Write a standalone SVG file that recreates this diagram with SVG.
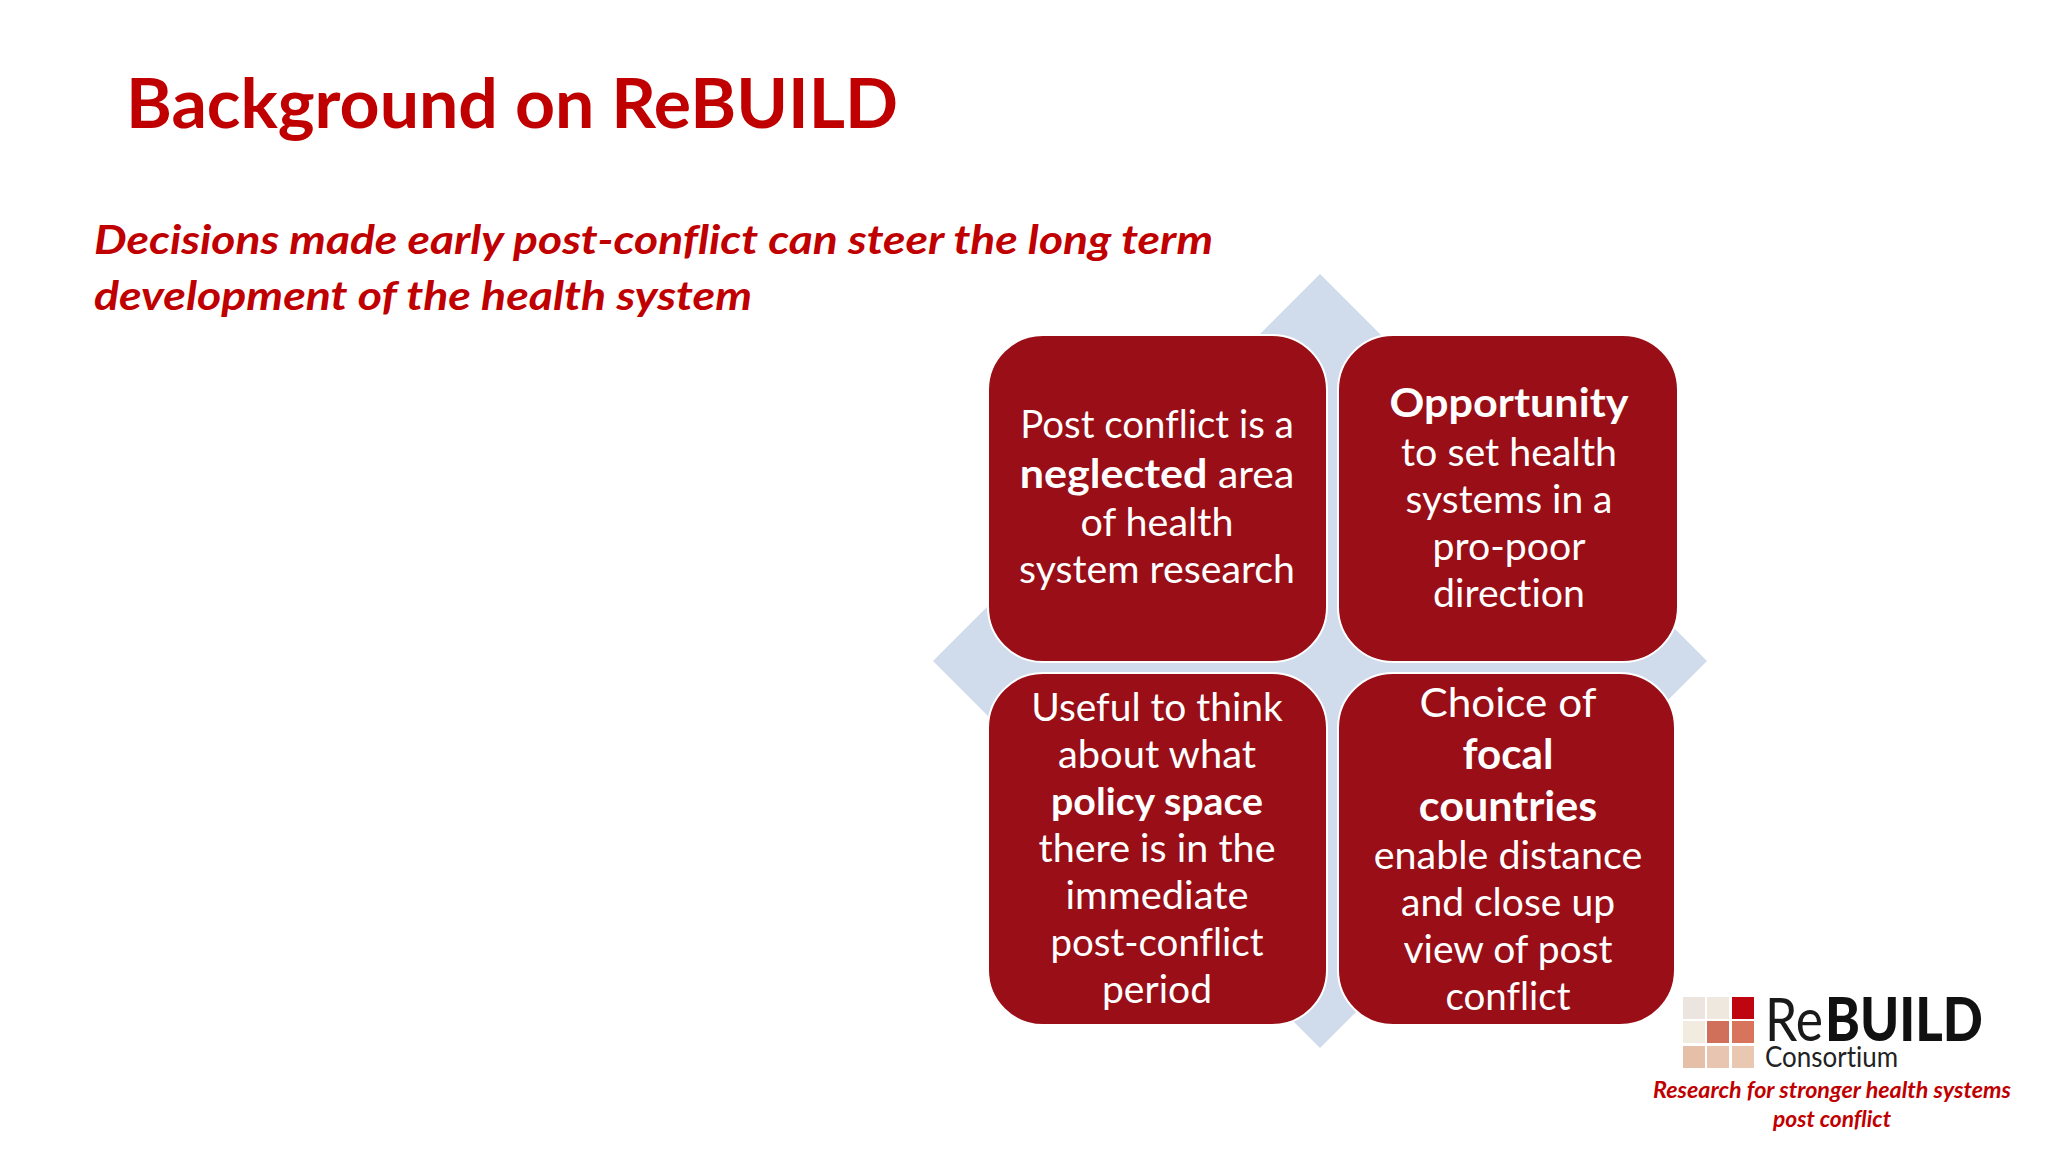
<svg xmlns="http://www.w3.org/2000/svg" width="2048" height="1152" viewBox="0 0 2048 1152">
<style>
text{font-family:Lato,"Open Sans",sans-serif;font-variant-ligatures:none}
.b{fill:#990e17;stroke:#fff;stroke-width:2}
.t{fill:#fff;font-size:38px;text-anchor:middle}
.h{font-size:40px}
.s{font-weight:700;font-size:40px}
.r{fill:#c00000;font-weight:700;font-style:italic}
</style>
<rect width="2048" height="1152" fill="#fff"/>
<text class="r" x="126" y="128" font-size="68" style="font-style:normal" textLength="772" lengthAdjust="spacingAndGlyphs">Background on ReBUILD</text>
<text class="r" x="94" y="254" font-size="40" textLength="1119" lengthAdjust="spacingAndGlyphs">Decisions made early post-conflict can steer the long term</text>
<text class="r" x="94" y="310" font-size="40" textLength="658" lengthAdjust="spacingAndGlyphs">development of the health system</text>
<polygon id="diamond" points="1320,274 1707,661 1320,1048 933,661" fill="#d0dcec"/>
<g id="n1"><rect class="b" x="988" y="335" width="339" height="327" rx="55"/>
<text class="t" x="1157" y="438" textLength="273.5" lengthAdjust="spacingAndGlyphs">Post conflict is a</text>
<text class="t" x="1157" y="488" textLength="274.5" lengthAdjust="spacingAndGlyphs"><tspan class="s">neglected</tspan> area</text>
<text class="t" x="1157" y="536" textLength="153" lengthAdjust="spacingAndGlyphs">of health</text>
<text class="t" x="1157" y="583" textLength="276" lengthAdjust="spacingAndGlyphs">system research</text></g>
<g id="n2"><rect class="b" x="1338" y="335" width="340" height="327" rx="55"/>
<text class="t s" x="1509" y="417" textLength="239" lengthAdjust="spacingAndGlyphs">Opportunity</text>
<text class="t" x="1509" y="466" textLength="216" lengthAdjust="spacingAndGlyphs">to set health</text>
<text class="t" x="1509" y="513" textLength="207" lengthAdjust="spacingAndGlyphs">systems in a</text>
<text class="t" x="1509" y="560" textLength="153" lengthAdjust="spacingAndGlyphs">pro-poor</text>
<text class="t" x="1509" y="607" textLength="152" lengthAdjust="spacingAndGlyphs">direction</text></g>
<g id="n3"><rect class="b" x="988" y="673" width="339" height="352" rx="55"/>
<text class="t" x="1157" y="721" textLength="251.5" lengthAdjust="spacingAndGlyphs">Useful to think</text>
<text class="t" x="1157" y="768" textLength="198" lengthAdjust="spacingAndGlyphs">about what</text>
<text class="t s" style="font-size:38px" x="1157" y="815" textLength="212" lengthAdjust="spacingAndGlyphs">policy space</text>
<text class="t" x="1157" y="862" textLength="237" lengthAdjust="spacingAndGlyphs">there is in the</text>
<text class="t" x="1157" y="909" textLength="183" lengthAdjust="spacingAndGlyphs">immediate</text>
<text class="t" x="1157" y="956" textLength="213" lengthAdjust="spacingAndGlyphs">post-conflict</text>
<text class="t" x="1157" y="1003" textLength="110" lengthAdjust="spacingAndGlyphs">period</text></g>
<g id="n4"><rect class="b" x="1338" y="673" width="337" height="352" rx="55"/>
<text class="t h" x="1508" y="717" textLength="177" lengthAdjust="spacingAndGlyphs">Choice of</text>
<text class="t s" style="font-size:42px" x="1508" y="769" textLength="91" lengthAdjust="spacingAndGlyphs">focal</text>
<text class="t s" style="font-size:42px" x="1508" y="821" textLength="178.5" lengthAdjust="spacingAndGlyphs">countries</text>
<text class="t" x="1508" y="869" textLength="268.5" lengthAdjust="spacingAndGlyphs">enable distance</text>
<text class="t" x="1508" y="916" textLength="214" lengthAdjust="spacingAndGlyphs">and close up</text>
<text class="t" x="1508" y="963" textLength="209" lengthAdjust="spacingAndGlyphs">view of post</text>
<text class="t" x="1508" y="1010" textLength="125" lengthAdjust="spacingAndGlyphs">conflict</text></g>
<g id="logo">
<rect x="1683" y="997" width="22" height="22" fill="#ece4df"/>
<rect x="1707" y="997" width="22" height="22" fill="#eee8df"/>
<rect x="1732" y="997" width="22" height="22" fill="#bf0510"/>
<rect x="1683" y="1021" width="22" height="22" fill="#f1ebe0"/>
<rect x="1707" y="1021" width="22" height="22" fill="#d0705a"/>
<rect x="1732" y="1021" width="22" height="22" fill="#d8745c"/>
<rect x="1683" y="1046" width="22" height="22" fill="#e6bfa8"/>
<rect x="1707" y="1046" width="22" height="22" fill="#e8c5b0"/>
<rect x="1732" y="1046" width="22" height="22" fill="#e8c8b0"/>
<text x="1765" y="1041" font-size="60" font-weight="400" fill="#1a1a1a" textLength="58" lengthAdjust="spacingAndGlyphs">Re</text>
<text x="1825" y="1041" font-size="60" font-weight="900" fill="#111" textLength="158" lengthAdjust="spacingAndGlyphs">BUILD</text>
<text x="1765" y="1067" font-size="28" font-weight="400" fill="#222" textLength="133" lengthAdjust="spacingAndGlyphs">Consortium</text>
</g>
<g text-anchor="middle">
<text class="r" x="1832" y="1098" font-size="22" textLength="358" lengthAdjust="spacingAndGlyphs">Research for stronger health systems</text>
<text class="r" x="1832" y="1127" font-size="22" textLength="118" lengthAdjust="spacingAndGlyphs">post conflict</text>
</g>
</svg>
